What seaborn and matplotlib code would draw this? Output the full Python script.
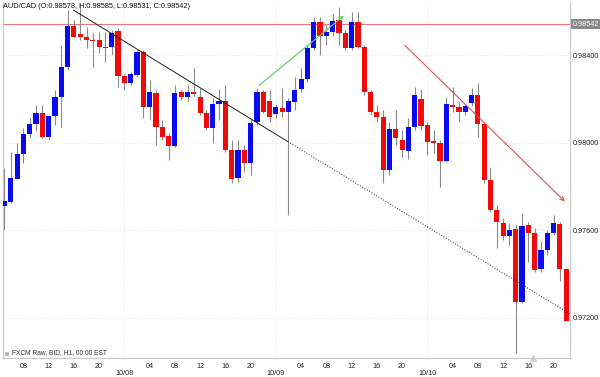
import numpy as np
import pandas as pd
import matplotlib
matplotlib.use("Agg")
import matplotlib.pyplot as plt
import matplotlib.transforms as mtransforms
from matplotlib.patches import Rectangle
import seaborn as sns

# ---------------- data (AUD/CAD, H1 candles) ----------------
start_time = "2013-10-07 05:00"
opens = [0.97711, 0.97729, 0.97834, 0.97948, 0.98040, 0.98085, 0.98136, 0.98026, 0.98122, 0.98209,
         0.98346, 0.98533, 0.98496, 0.98483, 0.98469, 0.98469, 0.98436, 0.98436, 0.98510, 0.98305,
         0.98273, 0.98309, 0.98414, 0.98163, 0.98227, 0.98072, 0.98031, 0.97985, 0.98231, 0.98209,
         0.98231, 0.98209, 0.98136, 0.98067, 0.98177, 0.98191, 0.97967, 0.97839, 0.97967, 0.97907,
         0.98095, 0.98231, 0.98191, 0.98131, 0.98159, 0.98140, 0.98186, 0.98245, 0.98291, 0.98432,
         0.98551, 0.98487, 0.98506, 0.98560, 0.98501, 0.98432, 0.98551, 0.98436, 0.98231, 0.98140,
         0.98118, 0.97875, 0.98063, 0.98012, 0.97962, 0.98072, 0.98200, 0.98081, 0.98008, 0.97999,
         0.97917, 0.98172, 0.98163, 0.98140, 0.98181, 0.98218, 0.98085, 0.97830, 0.97693, 0.97634,
         0.97574, 0.97606, 0.97273, 0.97624, 0.97588, 0.97423, 0.97510, 0.97588, 0.97629, 0.97423]
highs = [0.97884, 0.97958, 0.97999, 0.98067, 0.98113, 0.98172, 0.98172, 0.98127, 0.98241, 0.98446,
         0.98606, 0.98560, 0.98638, 0.98528, 0.98501, 0.98506, 0.98506, 0.98515, 0.98524, 0.98314,
         0.98323, 0.98423, 0.98423, 0.98286, 0.98241, 0.98104, 0.98044, 0.98263, 0.98241, 0.98263,
         0.98341, 0.98250, 0.98149, 0.98204, 0.98245, 0.98263, 0.98012, 0.98012, 0.97990, 0.98108,
         0.98250, 0.98241, 0.98241, 0.98177, 0.98250, 0.98204, 0.98300, 0.98341, 0.98446, 0.98574,
         0.98574, 0.98537, 0.98588, 0.98620, 0.98515, 0.98597, 0.98597, 0.98446, 0.98241, 0.98172,
         0.98149, 0.98095, 0.98149, 0.98058, 0.98113, 0.98254, 0.98245, 0.98095, 0.98058, 0.98012,
         0.98209, 0.98254, 0.98186, 0.98177, 0.98250, 0.98273, 0.98095, 0.97889, 0.97716, 0.97657,
         0.97634, 0.97624, 0.97679, 0.97638, 0.97611, 0.97551, 0.97602, 0.97670, 0.97638, 0.97423]
lows = [0.97602, 0.97725, 0.97834, 0.97907, 0.98022, 0.98054, 0.98022, 0.98012, 0.98081, 0.98072,
        0.98332, 0.98483, 0.98469, 0.98432, 0.98346, 0.98410, 0.98369, 0.98401, 0.98254, 0.98241,
        0.98263, 0.98300, 0.98113, 0.98104, 0.97990, 0.98012, 0.97921, 0.97981, 0.98195, 0.98190,
        0.98213, 0.98127, 0.98058, 0.97999, 0.98104, 0.97958, 0.97816, 0.97821, 0.97866, 0.97853,
        0.98081, 0.98136, 0.98095, 0.98113, 0.98118, 0.97670, 0.98149, 0.98231, 0.98277, 0.98423,
        0.98401, 0.98446, 0.98487, 0.98446, 0.98423, 0.98423, 0.98432, 0.98218, 0.98127, 0.98095,
        0.97816, 0.97853, 0.97990, 0.97935, 0.97926, 0.98058, 0.98058, 0.97944, 0.97953, 0.97798,
        0.97912, 0.98140, 0.98095, 0.98127, 0.98168, 0.98026, 0.97816, 0.97684, 0.97519, 0.97556,
        0.97533, 0.97040, 0.97269, 0.97455, 0.97410, 0.97410, 0.97487, 0.97579, 0.97369, 0.97190]
closes = [0.97734, 0.97839, 0.97948, 0.98040, 0.98085, 0.98136, 0.98026, 0.98122, 0.98209, 0.98346,
          0.98533, 0.98483, 0.98483, 0.98469, 0.98464, 0.98436, 0.98434, 0.98501, 0.98305, 0.98273,
          0.98314, 0.98414, 0.98163, 0.98231, 0.98072, 0.98026, 0.97985, 0.98227, 0.98209, 0.98231,
          0.98222, 0.98136, 0.98067, 0.98177, 0.98191, 0.97967, 0.97834, 0.97967, 0.97907, 0.98090,
          0.98231, 0.98140, 0.98118, 0.98163, 0.98140, 0.98191, 0.98241, 0.98291, 0.98432, 0.98551,
          0.98487, 0.98506, 0.98556, 0.98501, 0.98432, 0.98551, 0.98436, 0.98231, 0.98140, 0.98118,
          0.97875, 0.98063, 0.98022, 0.97967, 0.98072, 0.98218, 0.98076, 0.98003, 0.97999, 0.97917,
          0.98177, 0.98163, 0.98140, 0.98168, 0.98218, 0.98085, 0.97830, 0.97693, 0.97638, 0.97574,
          0.97602, 0.97273, 0.97620, 0.97588, 0.97419, 0.97510, 0.97588, 0.97634, 0.97423, 0.97186]

y_ticks = [0.97200, 0.97600, 0.98000, 0.98400]
last_price = 0.98542
header = "AUD/CAD (O:0.98578, H:0.98585, L:0.98531, C:0.98542)"
footer = "FXCM Raw, BID, H1, 00:00 EST"

# drawn objects (candle index, price)
black_solid_x = [10.9, 44.9]
black_solid_y = [0.98606, 0.98005]
black_dotted_x = [44.9, 89.6]
black_dotted_y = [0.98005, 0.97218]
green_arrow = [(40.0, 0.98253), (54.1, 0.98588)]
red_arrow = [(63.1, 0.98454), (89.1, 0.97723)]

# ---------------- figure ----------------
sns.set_theme(style="white")
plt.rcParams["font.family"] = ["Liberation Sans", "DejaVu Sans"]

fig = plt.figure(figsize=(6.0, 3.77), dpi=100)
ax = fig.add_axes([2.7 / 600, 1 - 358 / 377, (570 - 2.7) / 600, (358 - 2) / 377])

times = pd.date_range(start_time, periods=len(opens), freq="h")
df = pd.DataFrame({"t": times, "o": opens, "h": highs, "l": lows, "c": closes})
df["x"] = np.arange(len(df))
df["up"] = df["c"] >= df["o"]
df["bottom"] = df[["o", "c"]].min(axis=1)
df["height"] = (df["c"] - df["o"]).abs().clip(lower=0.00005)

# grid
grid_kw = dict(color="#d4d4d4", lw=0.5, ls=(0, (1, 2.5)), zorder=0)
for yt in y_ticks:
    ax.axhline(yt, **grid_kw)
day_starts = df.index[df["t"].dt.hour == 0].tolist()
for d in day_starts:
    ax.axvline(d, **grid_kw)

# last price line
ax.axhline(last_price, color="#e8787c", lw=0.8, zorder=1)

# wicks and bodies
ax.vlines(df["x"], df["l"], df["h"], color="#8a8a8a", lw=0.8, zorder=2)
ax.bar(df["x"], df["height"], bottom=df["bottom"], width=0.82,
       color=np.where(df["up"], "#0a0af0", "#f00a0a"), linewidth=0, zorder=3)

# trendlines
sns.lineplot(x=black_solid_x, y=black_solid_y, ax=ax, color="#222222", lw=0.7, zorder=4)
sns.lineplot(x=black_dotted_x, y=black_dotted_y, ax=ax, color="#2a2a2a", lw=0.7,
             linestyle=(0, (1, 1.8)), zorder=4)
ax.annotate("", xy=green_arrow[1], xytext=green_arrow[0],
            arrowprops=dict(arrowstyle="->", color="#5ad25a", lw=0.8, mutation_scale=7), zorder=4)
ax.annotate("", xy=red_arrow[1], xytext=red_arrow[0],
            arrowprops=dict(arrowstyle="->", color="#e0505a", lw=0.8, mutation_scale=7), zorder=4)

# axes limits / spines
ax.set_xlim(-0.28, 89.6)
ax.set_ylim(0.970169, 0.986425)
for side in ["left", "right", "bottom", "top"]:
    ax.spines[side].set_color("#c8c8c8")
    ax.spines[side].set_linewidth(0.8)
ax.spines["top"].set_visible(False)

# y ticks on right
ax.yaxis.tick_right()
ax.set_yticks(y_ticks)
ax.set_yticklabels([f"{v:.5f}" for v in y_ticks])
ax.tick_params(axis="y", length=0, pad=2, labelsize=5.2, colors="#222222")

# x ticks: every 4 hours, day labels below
tick_idx = df.index[(df["t"].dt.hour % 4 == 0) & (df["t"].dt.hour != 0)].tolist()
ax.set_xticks(tick_idx)
ax.set_xticklabels([f"{df['t'][i].hour:02d}" for i in tick_idx])
ax.tick_params(axis="x", length=0, pad=3.5, labelsize=5.2, colors="#222222")
trans = mtransforms.blended_transform_factory(ax.transData, ax.transAxes)
for d in day_starts:
    ax.text(d, -15.5 / 356, df["t"][d].strftime("%m/%d"), transform=trans,
            ha="center", va="center", fontsize=5.2, color="#222222")

# price label box
trans_y = mtransforms.blended_transform_factory(ax.transAxes, ax.transData)
ax.text(1.004, last_price, f"{last_price:.5f}", transform=trans_y, ha="left", va="center",
        fontsize=5.2, color="white",
        bbox=dict(boxstyle="square,pad=0.15", fc="#8a8a8a", ec="none"))

# header / footer
fig.text(3 / 600, 1 - 6.5 / 377, header, ha="left", va="center", fontsize=5.3, color="#111111")
fig.text(12 / 600, 1 - 353 / 377, footer, ha="left", va="center", fontsize=4.8, color="#333333")
fig.patches.append(Rectangle((5 / 600, 1 - 355.5 / 377), 4 / 600, 4 / 377,
                             transform=fig.transFigure, fc="#bbbbbb", ec="none"))
# small marker at bottom axis
ax.plot([83.8], [0.0], marker="^", ms=5, color="#d0d0d0", transform=trans, clip_on=False, zorder=5)

fig.savefig("out.png", dpi=100)
